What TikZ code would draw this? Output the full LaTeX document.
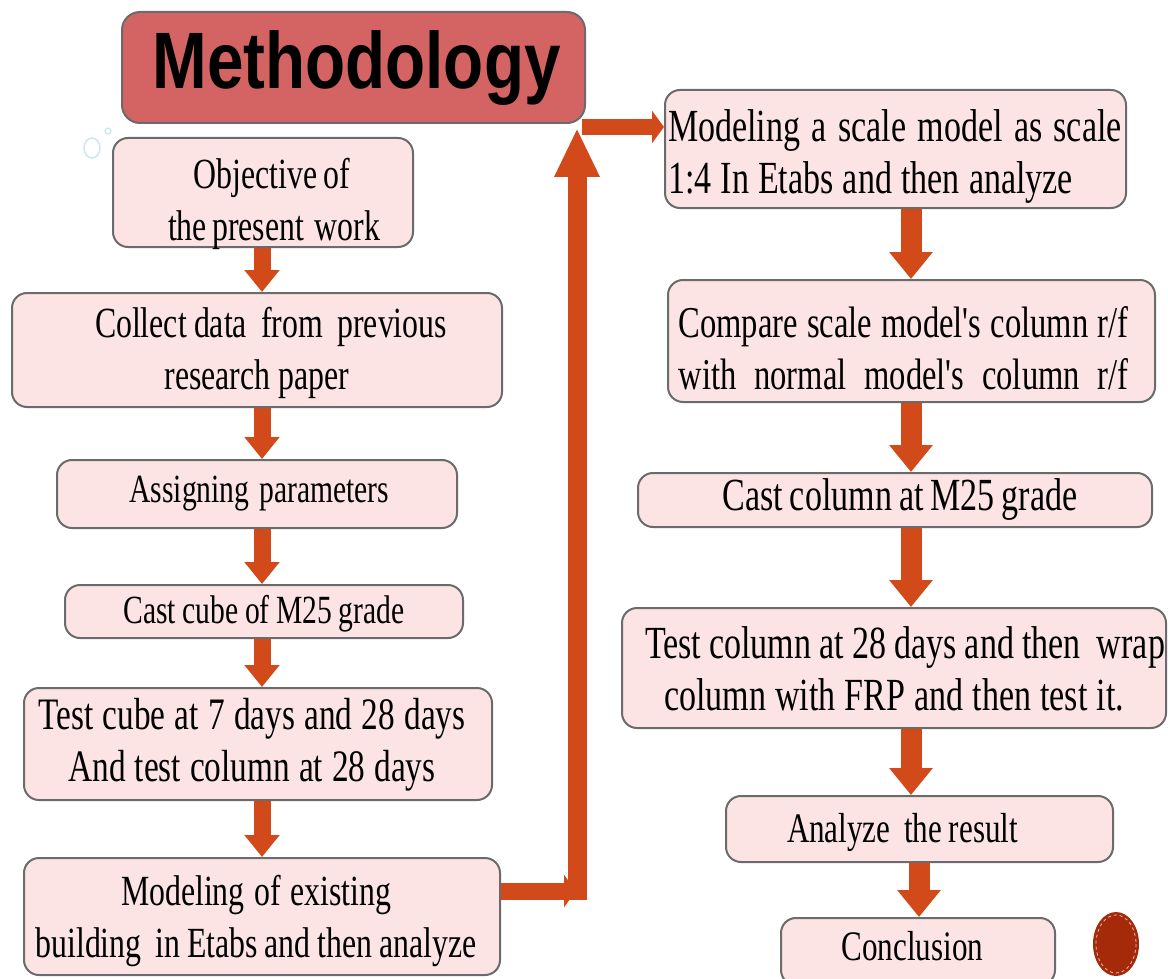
\documentclass[tikz,border=0pt]{standalone}
\usepackage{fontspec}
\usetikzlibrary{arrows.meta}
\newfontfamily\condf[FakeStretch=0.74]{Liberation Serif}
\newfontfamily\titlef[FakeStretch=0.82]{Liberation Sans}
\definecolor{boxfill}{HTML}{FDE4E4}
\definecolor{boxdraw}{HTML}{6B6B6B}
\definecolor{titlefill}{HTML}{D46464}
\definecolor{arrowc}{HTML}{D2491A}
\definecolor{decoc}{HTML}{CDE6EE}
\definecolor{dotc}{HTML}{A52A0A}
\newcommand{\fitline}[2]{\makebox[#1pt][s]{#2}}
\begin{document}
\begin{tikzpicture}[x=1pt,y=-1pt,
  box/.style={draw=boxdraw, line width=2pt, fill=boxfill, rounded corners=15pt,
    inner sep=0pt},
  txt/.style={align=center, inner sep=0pt, text=black},
  fs/.style={font=\condf\fontsize{#1}{52}\selectfont},
  titlebox/.style={draw=boxdraw, line width=2pt, fill=titlefill, rounded corners=18pt,
    inner sep=0pt, font=\titlef\bfseries\fontsize{80}{88}\selectfont},
  arrL/.style={draw=arrowc, line width=17pt, line cap=butt,
    -{Triangle[length=22pt 0 0, width=34pt 0 0]}},
  arrR/.style={draw=arrowc, line width=21pt, line cap=butt,
    -{Triangle[length=27pt 0 0, width=42pt 0 0]}},
  arrS/.style={draw=arrowc, line width=16pt, line cap=butt,
    -{Triangle[length=12pt 0 0, width=32pt 0 0]}},
  arrU/.style={draw=arrowc, line width=19pt, line cap=butt,
    -{Triangle[length=49pt 0 0, width=42pt 0 0]}}
]
\useasboundingbox (0,0) rectangle (1168,979);
\clip (0,0) rectangle (1168,979);

% decorations
\draw[decoc, line width=1.5pt] (92,148) ellipse (8 and 10);
\draw[decoc, line width=1.2pt] (108,131) circle (3);
\fill[dotc] (1116,944) ellipse (23 and 32);
\draw[white, line width=0.8pt, dashed, opacity=0.7] (1116,944) ellipse (20 and 29);

% title
\node[titlebox, minimum width=463pt, minimum height=111pt] (title) at (353.5,67.5) {\hspace{6pt}Methodology};

% left column
\node[box, minimum width=300pt, minimum height=109pt,
  label={[txt, fs=43, xshift=9pt, yshift=-11pt]center:{\fitline{157}{Objective of}\\\fitline{208}{the present\ \ work}}}] (b1) at (263,192.5) {};
\node[box, minimum width=490pt, minimum height=114pt,
  label={[txt, fs=43, yshift=-3pt]center:{\hspace{28pt}\fitline{352}{Collect data\ \ from\ \ previous}\\\fitline{185}{research paper}\hspace{14pt}}}] (b2) at (257,350) {};
\node[box, minimum width=400pt, minimum height=68pt,
  label={[txt, fs=40, xshift=-1pt]center:{\fitline{253}{Assigning\ \ parameters}}}] (b3) at (257,494) {};
\node[box, minimum width=398pt, minimum height=53pt,
  label={[txt, fs=40, yshift=-2pt]center:{\fitline{281}{Cast cube of M25 grade}}}] (b4) at (264,611.5) {};
\node[box, minimum width=468pt, minimum height=112pt,
  label={[txt, fs=45, xshift=-6pt, yshift=-1pt]center:{\fitline{427}{Test cube at 7 days and 28 days}\\\fitline{367}{And test column at 28 days}}}] (b5) at (258,744) {};
\node[box, minimum width=476pt, minimum height=117pt,
  label={[txt, fs=43, xshift=-6pt, yshift=-4pt]center:{\fitline{270}{Modeling of existing}\\\fitline{441}{building\ \ in Etabs and then analyze}}}] (b6) at (262,916.5) {};

% right column
\node[box, minimum width=461pt, minimum height=118pt,
  label={[txt, fs=46, align=left, xshift=-9pt, yshift=-8pt]center:{\fitline{437}{Modeling\ \ a\ \ scale\ \ model\ \ as\ \ scale}\\\fitline{405}{1:4 In Etabs and then analyze}}}] (b7) at (895.5,149) {};
\node[box, minimum width=487pt, minimum height=122pt,
  label={[txt, fs=44, xshift=-8pt, yshift=-7pt]center:{\fitline{450}{Compare scale model's column r/f}\\\fitline{450}{with normal model's column r/f}}}] (b8) at (911.5,341) {};
\node[box, minimum width=514pt, minimum height=54pt,
  label={[txt, fs=46, xshift=5pt]center:{\fitline{355}{Cast column at M25 grade}}}] (b9) at (895,500) {};
\node[box, minimum width=544pt, minimum height=120pt,
  label={[txt, fs=46, yshift=-1pt]center:{\hspace{22pt}\fitline{520}{Test column at 28 days and then\ \ wrap}\\\fitline{460}{column with FRP and then test it.}}}] (b10) at (894,668) {};
\node[box, minimum width=387pt, minimum height=66pt,
  label={[txt, fs=42, xshift=-17pt, yshift=-3pt]center:{\fitline{231}{Analyze\ \ the result}}}] (b11) at (919.5,829) {};
\node[box, minimum width=274pt, minimum height=67pt,
  label={[txt, fs=42, xshift=-8pt, yshift=5pt]center:{\fitline{137}{Conclusion}}}] (b12) at (918,951.5) {};

% arrow x-positions
\coordinate (xl) at (262,0);
\coordinate (xr) at (911,0);
\coordinate (xr2) at (919,0);

% left arrows
\draw[arrL] (b1.south -| xl) -- (b2.north -| xl);
\draw[arrL] (b2.south -| xl) -- (b3.north -| xl);
\draw[arrL] (b3.south -| xl) -- (b4.north -| xl);
\draw[arrL] (b4.south -| xl) -- (b5.north -| xl);
\draw[arrL] (b5.south -| xl) -- (b6.north -| xl);

% right arrows
\draw[arrR] (b7.south -| xr) -- (b8.north -| xr);
\draw[arrR] (b8.south -| xr) -- (b9.north -| xr);
\draw[arrR] (b9.south -| xr) -- (b10.north -| xr);
\draw[arrR] (b10.south -| xr) -- (b11.north -| xr);
\draw[arrR] (b11.south -| xr2) -- (b12.north -| xr2);

% elbow connector
\coordinate (hb) at (576,891);
\coordinate (vb) at (577,900);
\coordinate (vt) at (577,128);
\coordinate (tt) at (582,127);
\draw[arrS, line width=17pt] (b6.east |- hb) -- (hb);
\draw[arrU] (vb) -- (vt);
\draw[arrS] (tt) -- (b7.west |- tt);
\end{tikzpicture}
\end{document}
